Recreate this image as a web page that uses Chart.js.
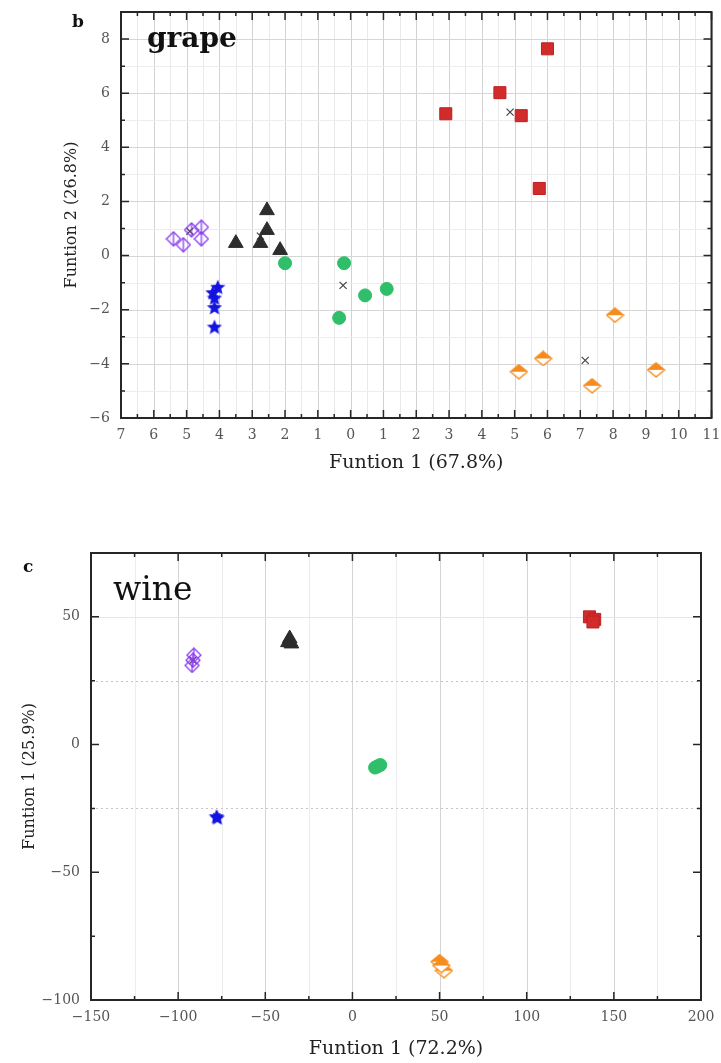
<!DOCTYPE html>
<html lang="en">
<head>
<meta charset="UTF-8">
<title>Discriminant functions - grape and wine</title>
<script src="https://cdn.jsdelivr.net/npm/chart.js"></script>
<style>
  body { margin: 0; background: #fff; }
  #wrap { position: relative; width: 721px; height: 1063px; }
  canvas { position: absolute; left: 0; }
</style>
</head>
<body>
<div id="wrap">
  <canvas id="grapeChart" width="721" height="490" style="top:0"></canvas>
  <canvas id="wineChart" width="721" height="533" style="top:530px"></canvas>
</div>
<script>
// ---- panel b: grape ----
const grapeDiamondX  = [-5.4, -5.1, -4.85, -4.55, -4.55];
const grapeDiamondY  = [0.62, 0.4, 0.95, 1.05, 0.62];
const grapeTriangleX = [-3.5, -2.75, -2.55, -2.55, -2.15];
const grapeTriangleY = [0.46, 0.46, 0.94, 1.67, 0.2];
const grapeStarX     = [-4.05, -4.2, -4.15, -4.15, -4.15];
const grapeStarY     = [-1.15, -1.35, -1.55, -1.9, -2.62];
const grapeCircleX   = [-2.0, -0.2, -0.35, 0.44, 1.1];
const grapeCircleY   = [-0.28, -0.28, -2.3, -1.47, -1.23];
const grapeSquareX   = [2.9, 4.55, 5.2, 5.75, 6.0];
const grapeSquareY   = [5.24, 6.02, 5.17, 2.48, 7.64];
const grapeHalfX     = [5.13, 5.87, 7.36, 8.06, 9.31];
const grapeHalfY     = [-4.29, -3.8, -4.81, -2.2, -4.22];
const grapeCentroidX = [-4.9, -2.75, -4.15, -0.23, 4.86, 7.15];
const grapeCentroidY = [0.9, 0.72, -1.6, -1.1, 5.3, -3.87];

const grapeXTicks = [-7, -6, -5, -4, -3, -2, -1, 0, 1, 2, 3, 4, 5, 6, 7, 8, 9, 10, 11];
const grapeYTicks = [-6, -4, -2, 0, 2, 4, 6, 8];

// ---- panel c: wine ----
const wineDiamondX  = [-91, -92, -91.5];
const wineDiamondY  = [35, 31, 33];
const wineTriangleX = [-36, -35, -37];
const wineTriangleY = [41.5, 39.5, 40];
const wineStarX     = [-78, -77.5];
const wineStarY     = [-28, -28.5];
const wineCircleX   = [13, 16, 14.5];
const wineCircleY   = [-9, -8, -8.5];
const wineSquareX   = [136, 139, 138];
const wineSquareY   = [50, 49, 48];
const wineHalfX     = [50, 52.5, 51];
const wineHalfY     = [-85, -88.5, -86.5];
const wineCentroidX = [-91.5, -36, -77.8, 14.7, 137.8, 51.2];
const wineCentroidY = [33, 40.3, -28.2, -8.5, 49, -86.7];

const wineXTicks = [-150, -100, -50, 0, 50, 100, 150, 200];
const wineYTicks = [-100, -50, 0, 50];

const SERIF = "'DejaVu Serif', serif";
const PURPLE = '#8a3cf0', BLACK = '#2d2d2d', BLUE = '#1414e0',
      GREEN = '#2fbf6a', RED = '#d22b2b', ORANGE = '#f58c1c';

function zip(xs, ys) { return xs.map((x, i) => ({ x: x, y: ys[i] })); }
function midpoints(arr) {
  const out = [];
  for (let i = 0; i < arr.length - 1; i++) out.push((arr[i] + arr[i + 1]) / 2);
  return out;
}
function minusSign(v) { return String(v).replace('-', '\u2212'); }

// marker images
function starImg(size) {
  const c = document.createElement('canvas'); c.width = c.height = size;
  const g = c.getContext('2d'), r = size / 2, ri = r * 0.45;
  g.beginPath();
  for (let i = 0; i < 10; i++) {
    const a = -Math.PI / 2 + i * Math.PI / 5, rr = i % 2 ? ri : r;
    g.lineTo(r + rr * Math.cos(a), r + 1 + rr * Math.sin(a));
  }
  g.closePath(); g.fillStyle = BLUE; g.fill();
  return c;
}
function halfDiamondImg(w, h) {
  const c = document.createElement('canvas'); c.width = w; c.height = h;
  const g = c.getContext('2d');
  g.beginPath(); g.moveTo(w / 2, 1); g.lineTo(w - 1, h / 2); g.lineTo(w / 2, h - 1); g.lineTo(1, h / 2); g.closePath();
  g.fillStyle = '#fff'; g.fill();
  g.lineWidth = 1.4; g.strokeStyle = ORANGE; g.stroke();
  g.beginPath(); g.moveTo(w / 2, 1); g.lineTo(w - 1, h / 2); g.lineTo(1, h / 2); g.closePath();
  g.fillStyle = ORANGE; g.fill();
  return c;
}
function openDiamondImg(size) {
  const c = document.createElement('canvas'); c.width = c.height = size;
  const g = c.getContext('2d'), m = size / 2;
  g.strokeStyle = PURPLE; g.lineWidth = 1.3;
  g.beginPath(); g.moveTo(m, 1); g.lineTo(size - 1, m); g.lineTo(m, size - 1); g.lineTo(1, m); g.closePath(); g.stroke();
  g.beginPath(); g.moveTo(m, 1); g.lineTo(m, size - 1); g.stroke();
  return c;
}

function buildDatasets(s) {
  return [
    { data: zip(s.diamondX, s.diamondY), pointStyle: openDiamondImg(16), pointRadius: 6 },
    { data: zip(s.triangleX, s.triangleY), pointStyle: 'triangle', pointRadius: 8.5,
      backgroundColor: BLACK, borderColor: BLACK, borderWidth: 1 },
    { data: zip(s.starX, s.starY), pointStyle: starImg(16), pointRadius: 6 },
    { data: zip(s.circleX, s.circleY), pointStyle: 'circle', pointRadius: 6.5,
      backgroundColor: GREEN, borderColor: GREEN, borderWidth: 1 },
    { data: zip(s.squareX, s.squareY), pointStyle: 'rect', pointRadius: 8.5,
      backgroundColor: RED, borderColor: '#c02020', borderWidth: 1 },
    { data: zip(s.halfX, s.halfY), pointStyle: halfDiamondImg(19, 16), pointRadius: 6 },
    { data: zip(s.centroidX, s.centroidY), pointStyle: 'crossRot', pointRadius: 5,
      borderColor: '#444', borderWidth: 1.2 }
  ];
}

// axis frame, inward ticks, grid and panel texts
function makeFrame(cfg) {
  return {
    id: 'frame',
    beforeDatasetsDraw(chart) {
      const { ctx, chartArea: a, scales: { x, y } } = chart;
      ctx.save();
      ctx.lineWidth = 1;
      cfg.xGrid.forEach(v => {
        const st = cfg.vStyle(v); if (!st) return;
        const px = Math.round(x.getPixelForValue(v)) + 0.5;
        ctx.strokeStyle = st.color; ctx.setLineDash(st.dash || []);
        ctx.beginPath(); ctx.moveTo(px, a.top); ctx.lineTo(px, a.bottom); ctx.stroke();
      });
      cfg.yGrid.forEach(v => {
        const st = cfg.hStyle(v); if (!st) return;
        const py = Math.round(y.getPixelForValue(v)) + 0.5;
        ctx.strokeStyle = st.color; ctx.setLineDash(st.dash || []);
        ctx.beginPath(); ctx.moveTo(a.left, py); ctx.lineTo(a.right, py); ctx.stroke();
      });
      ctx.restore();
    },
    afterDraw(chart) {
      const { ctx, chartArea: a, scales: { x, y } } = chart;
      ctx.save();
      ctx.strokeStyle = '#262626';
      ctx.lineWidth = 1.5;
      const tick = (vals, len, horiz) => vals.forEach(v => {
        if (horiz) {
          const px = x.getPixelForValue(v);
          ctx.beginPath(); ctx.moveTo(px, a.top); ctx.lineTo(px, a.top + len);
          ctx.moveTo(px, a.bottom); ctx.lineTo(px, a.bottom - len); ctx.stroke();
        } else {
          const py = y.getPixelForValue(v);
          ctx.beginPath(); ctx.moveTo(a.left, py); ctx.lineTo(a.left + len, py);
          ctx.moveTo(a.right, py); ctx.lineTo(a.right - len, py); ctx.stroke();
        }
      });
      tick(cfg.xMajor, 8, true); tick(cfg.xMinor, 4, true);
      tick(cfg.yMajor, 8, false); tick(cfg.yMinor, 4, false);
      ctx.lineWidth = 2;
      ctx.strokeRect(a.left, a.top, a.right - a.left, a.bottom - a.top);
      cfg.texts.forEach(t => {
        ctx.font = t.font; ctx.fillStyle = '#111'; ctx.textBaseline = 'alphabetic';
        ctx.fillText(t.text, t.x, t.y);
      });
      ctx.restore();
    }
  };
}

function scaleOpts(o) {
  const isX = o.axis === 'x';
  return {
    type: 'linear', min: o.min, max: o.max,
    grid: { display: false, drawTicks: false },
    border: { display: false },
    ticks: { autoSkip: false, maxRotation: 0, padding: isX ? 9 : 11, color: '#555',
             font: { family: SERIF, size: 14 }, callback: o.label },
    title: { display: true, text: o.title, color: '#222',
             font: { family: SERIF, size: isX ? 19 : 16 }, padding: { top: 0, bottom: 0 } },
    afterBuildTicks: s => { s.ticks = o.ticks.map(v => ({ value: v })); },
    afterFit: s => {
      if (isX) { s.height = o.size; s.paddingLeft = 0; s.paddingRight = 0; }
      else { s.width = o.size; s.paddingTop = 0; s.paddingBottom = 0; }
    }
  };
}

// panel b
new Chart(document.getElementById('grapeChart'), {
  type: 'scatter',
  data: { datasets: buildDatasets({
    diamondX: grapeDiamondX, diamondY: grapeDiamondY, triangleX: grapeTriangleX, triangleY: grapeTriangleY,
    starX: grapeStarX, starY: grapeStarY, circleX: grapeCircleX, circleY: grapeCircleY,
    squareX: grapeSquareX, squareY: grapeSquareY, halfX: grapeHalfX, halfY: grapeHalfY,
    centroidX: grapeCentroidX, centroidY: grapeCentroidY }) },
  options: {
    responsive: false, animation: false,
    layout: { padding: { left: 62, right: 8, top: 12, bottom: 16 } },
    plugins: { legend: { display: false }, tooltip: { enabled: false } },
    scales: {
      x: scaleOpts({ axis: 'x', min: -7, max: 11, ticks: grapeXTicks, size: 56,
                     title: 'Funtion 1 (67.8%)', label: v => String(Math.abs(v)) }),
      y: scaleOpts({ axis: 'y', min: -6, max: 9, ticks: grapeYTicks, size: 59,
                     title: 'Funtion 2 (26.8%)', label: minusSign })
    }
  },
  plugins: [makeFrame({
    xMajor: grapeXTicks, xMinor: midpoints(grapeXTicks),
    yMajor: grapeYTicks, yMinor: midpoints(grapeYTicks).concat([9]),
    xGrid: grapeXTicks.concat(midpoints(grapeXTicks)),
    yGrid: grapeYTicks.concat(midpoints(grapeYTicks)),
    vStyle: v => Number.isInteger(v) ? { color: '#d2d2d2' } : { color: '#e9e9e9' },
    hStyle: v => v % 2 === 0 ? { color: '#d6d6d6' } : { color: '#ededed' },
    texts: [
      { text: 'b', font: 'bold 17px ' + SERIF, x: 72, y: 27 },
      { text: 'grape', font: 'bold 28px ' + SERIF, x: 147, y: 47 }
    ]
  })]
});

// panel c
new Chart(document.getElementById('wineChart'), {
  type: 'scatter',
  data: { datasets: buildDatasets({
    diamondX: wineDiamondX, diamondY: wineDiamondY, triangleX: wineTriangleX, triangleY: wineTriangleY,
    starX: wineStarX, starY: wineStarY, circleX: wineCircleX, circleY: wineCircleY,
    squareX: wineSquareX, squareY: wineSquareY, halfX: wineHalfX, halfY: wineHalfY,
    centroidX: wineCentroidX, centroidY: wineCentroidY }) },
  options: {
    responsive: false, animation: false,
    layout: { padding: { left: 20, right: 20, top: 23, bottom: 3 } },
    plugins: { legend: { display: false }, tooltip: { enabled: false } },
    scales: {
      x: scaleOpts({ axis: 'x', min: -150, max: 200, ticks: wineXTicks, size: 60,
                     title: 'Funtion 1 (72.2%)', label: minusSign }),
      y: scaleOpts({ axis: 'y', min: -100, max: 75, ticks: wineYTicks, size: 71,
                     title: 'Funtion 1 (25.9%)', label: minusSign })
    }
  },
  plugins: [makeFrame({
    xMajor: wineXTicks, xMinor: midpoints(wineXTicks),
    yMajor: wineYTicks, yMinor: midpoints(wineYTicks).concat([75]),
    xGrid: wineXTicks.concat(midpoints(wineXTicks)),
    yGrid: [50, 25, -25],
    vStyle: v => v % 50 === 0 ? { color: '#d4d4d4' } : { color: '#ececec' },
    hStyle: v => v === 50 ? { color: '#e6e6e6' } : { color: '#c4c4c4', dash: [2, 3] },
    texts: [
      { text: 'c', font: 'bold 17px ' + SERIF, x: 23, y: 42 },
      { text: 'wine', font: '33px ' + SERIF, x: 113, y: 70 }
    ]
  })]
});
</script>
</body>
</html>
